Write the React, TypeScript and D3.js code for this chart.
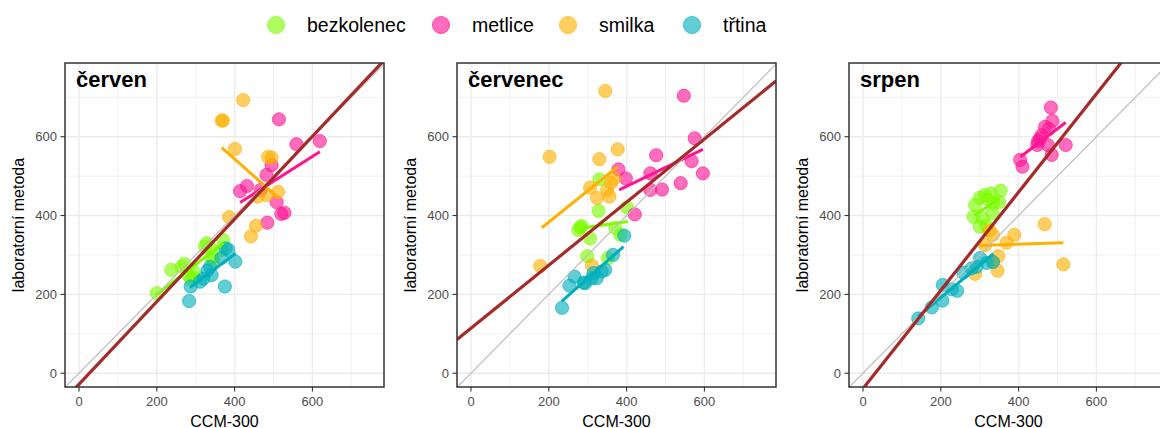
import React from "react";
import * as d3 from "d3";

const months = ["červen", "červenec", "srpen"];
const species = ["bezkolenec", "metlice", "smilka", "třtina"];
const speciesColors = ["#7CFC00", "#FF1493", "#FFB000", "#00AFBB"];
const xTicks = [0, 200, 400, 600];
const yTicks = [0, 200, 400, 600];
const minorTicks = [100, 300, 500, 700];
const xTitle = "CCM-300";
const yTitle = "laboratorní metoda";

// červen
const cervenBezkolenec = [[200,203],[237,262],[264,270],[271,277],[280,250],[288,238],[298,241],[294,258],[324,321],[328,330],[336,320],[341,292],[345,286],[366,313],[371,338]];
const cervenMetlice = [[514,644],[559,581],[619,589],[495,528],[482,503],[432,475],[414,462],[467,465],[508,434],[520,404],[528,407],[484,382]];
const cervenSmilka = [[422,693],[367,641],[370,641],[401,569],[486,549],[495,547],[512,460],[482,452],[460,448],[386,396],[455,374],[442,347]];
const cervenTrtina = [[283,183],[287,220],[311,232],[320,240],[337,270],[341,249],[330,260],[366,292],[377,317],[384,313],[402,283],[375,220]];
// červenec
const cervenecBezkolenec = [[330,492],[328,412],[401,421],[281,370],[276,363],[284,373],[306,342],[371,368],[384,351],[299,297],[352,292]];
const cervenecMetlice = [[547,704],[575,596],[476,553],[379,517],[398,494],[461,507],[567,538],[596,507],[539,482],[491,466],[461,465],[421,403]];
const cervenecSmilka = [[345,716],[202,549],[178,272],[330,543],[377,568],[306,471],[324,445],[356,448],[350,465],[360,483],[368,494],[311,273]];
const cervenecTrtina = [[234,166],[253,222],[266,245],[290,230],[293,228],[310,240],[315,254],[323,241],[336,258],[345,262],[365,300],[394,349]];
// srpen
const srpenBezkolenec = [[354,463],[329,456],[313,452],[300,445],[288,427],[335,431],[350,434],[333,406],[284,397],[307,393],[300,372],[318,374],[322,441]];
const srpenMetlice = [[483,674],[487,640],[468,625],[478,620],[459,604],[450,589],[455,595],[448,579],[475,579],[521,579],[485,554],[404,541],[410,524]];
const srpenSmilka = [[467,378],[515,276],[389,351],[369,331],[348,297],[346,260],[288,252],[314,325],[334,283],[334,351],[325,362]];
const srpenTrtina = [[142,139],[177,167],[204,184],[205,224],[228,213],[242,209],[258,255],[279,266],[292,270],[301,292],[334,282],[318,280]];

// per-species fitted lines [x1, y1, x2, y2]
const fitCerven = [[196,197,371,330],[414,433,619,562],[367,572,514,444],[285,217,403,304]];
const fitCervenec = [[281,368,403,385],[381,465,596,568],[182,369,377,524],[233,182,392,321]];
const fitSrpen = [[286,401,352,444],[405,549,521,636],[300,324,515,331],[142,144,335,303]];

// overall fit per month
const overallIntercept = [-28, 114, -39];
const overallSlope = [1.048, 0.8, 1.246];

const pointsByMonth = [
  [cervenBezkolenec, cervenMetlice, cervenSmilka, cervenTrtina],
  [cervenecBezkolenec, cervenecMetlice, cervenecSmilka, cervenecTrtina],
  [srpenBezkolenec, srpenMetlice, srpenSmilka, srpenTrtina],
];
const fitsByMonth = [fitCerven, fitCervenec, fitSrpen];

const FONT = "'Liberation Sans', Arial, Helvetica, sans-serif";
const panelLeft = [65, 457, 849];
const panelTop = 63;
const panelW = 319;
const panelH = 324;
const xDomain = [-36, 784];
const yDomain = [-35, 787];

function Panel({ m }: { m: number }) {
  const left = panelLeft[m];
  const x = d3.scaleLinear().domain(xDomain).range([left, left + panelW]);
  const y = d3.scaleLinear().domain(yDomain).range([panelTop + panelH, panelTop]);
  const bottom = panelTop + panelH;
  const clipId = `clip-${m}`;
  const line = d3.line<number[]>().x((d) => x(d[0])).y((d) => y(d[1]));
  const ab = (a: number, b: number) => [
    [xDomain[0], a + b * xDomain[0]],
    [xDomain[1], a + b * xDomain[1]],
  ];
  return (
    <g>
      <defs>
        <clipPath id={clipId}>
          <rect x={left} y={panelTop} width={panelW} height={panelH} />
        </clipPath>
      </defs>
      <rect x={left} y={panelTop} width={panelW} height={panelH} fill="#fff" />
      {minorTicks.map((t) => (
        <g key={"m" + t}>
          <line x1={x(t)} x2={x(t)} y1={panelTop} y2={bottom} stroke="#EBEBEB" strokeWidth={0.7} />
          <line x1={left} x2={left + panelW} y1={y(t)} y2={y(t)} stroke="#EBEBEB" strokeWidth={0.7} />
        </g>
      ))}
      {xTicks.map((t) => (
        <line key={"gx" + t} x1={x(t)} x2={x(t)} y1={panelTop} y2={bottom} stroke="#EBEBEB" strokeWidth={1.4} />
      ))}
      {yTicks.map((t) => (
        <line key={"gy" + t} x1={left} x2={left + panelW} y1={y(t)} y2={y(t)} stroke="#EBEBEB" strokeWidth={1.4} />
      ))}
      <g clipPath={`url(#${clipId})`}>
        {pointsByMonth[m].map((pts, s) =>
          pts.map((p, i) => (
            <circle
              key={s + "-" + i}
              cx={x(p[0])}
              cy={y(p[1])}
              r={6.6}
              fill={speciesColors[s]}
              fillOpacity={0.62}
              stroke={speciesColors[s]}
              strokeOpacity={0.62}
              strokeWidth={1}
            />
          ))
        )}
        {fitsByMonth[m].map((f, s) => (
          <path
            key={"f" + s}
            d={line([[f[0], f[1]], [f[2], f[3]]]) || ""}
            stroke={speciesColors[s]}
            strokeWidth={3}
            fill="none"
          />
        ))}
        <path d={line(ab(0, 1)) || ""} stroke="#BEBEBE" strokeWidth={1.2} fill="none" />
        <path
          d={line(ab(overallIntercept[m], overallSlope[m])) || ""}
          stroke="#A52A2A"
          strokeWidth={3.2}
          fill="none"
        />
      </g>
      <rect x={left} y={panelTop} width={panelW} height={panelH} fill="none" stroke="#333333" strokeWidth={1.5} />
      {xTicks.map((t) => (
        <g key={"tx" + t}>
          <line x1={x(t)} x2={x(t)} y1={bottom} y2={bottom + 4.5} stroke="#333333" strokeWidth={1.1} />
          <text x={x(t)} y={406} textAnchor="middle" fontSize={13} fill="#4D4D4D" fontFamily={FONT}>
            {t}
          </text>
        </g>
      ))}
      {yTicks.map((t) => (
        <g key={"ty" + t}>
          <line x1={left - 4.5} x2={left} y1={y(t)} y2={y(t)} stroke="#333333" strokeWidth={1.1} />
          <text x={left - 8} y={y(t)} dy="0.35em" textAnchor="end" fontSize={13} fill="#4D4D4D" fontFamily={FONT}>
            {t}
          </text>
        </g>
      ))}
      <text x={left + 11} y={panelTop + 24} fontSize={22} fontWeight="bold" fill="#000" fontFamily={FONT}>
        {months[m]}
      </text>
      <text x={left + panelW / 2} y={426.5} textAnchor="middle" fontSize={16} fill="#000" fontFamily={FONT}>
        {xTitle}
      </text>
      <text
        transform={`translate(${left - 47},${panelTop + panelH / 2}) rotate(-90)`}
        textAnchor="middle"
        dy="0.35em"
        fontSize={16}
        fill="#000"
        fontFamily={FONT}
      >
        {yTitle}
      </text>
    </g>
  );
}

const legendCircleX = [276, 441, 568, 692];

export default function App() {
  return (
    <svg
      width={1160}
      height={428}
      style={{ position: "absolute", left: 0, top: 0, display: "block", background: "#fff" }}
    >
      <rect width={1160} height={428} fill="#fff" />
      {species.map((s, i) => (
        <g key={s}>
          <circle
            cx={legendCircleX[i]}
            cy={25}
            r={8.6}
            fill={speciesColors[i]}
            fillOpacity={0.62}
            stroke={speciesColors[i]}
            strokeOpacity={0.62}
            strokeWidth={1}
          />
          <text x={legendCircleX[i] + 31} y={32} fontSize={19.5} fill="#000" fontFamily={FONT}>
            {s}
          </text>
        </g>
      ))}
      {months.map((_, m) => (
        <Panel key={m} m={m} />
      ))}
    </svg>
  );
}
